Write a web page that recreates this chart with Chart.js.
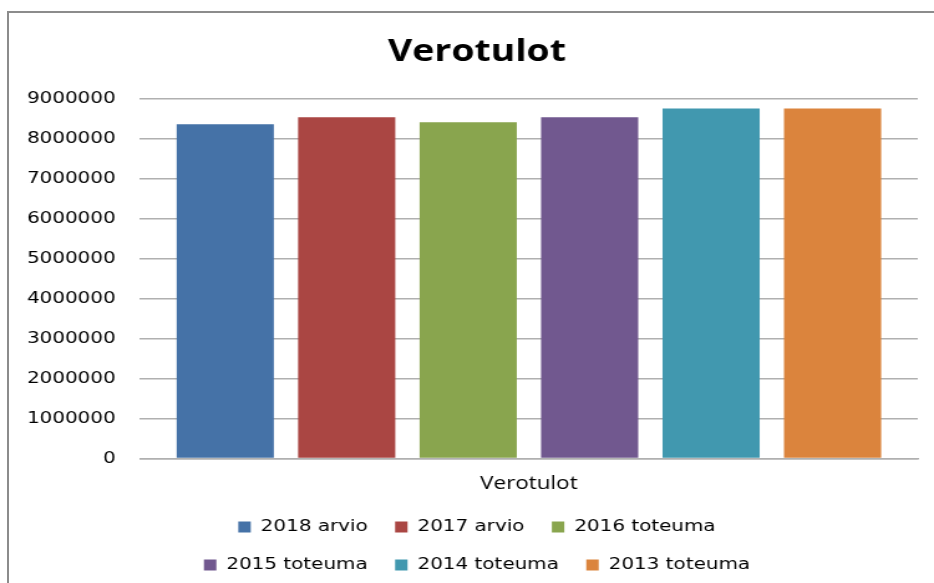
<!DOCTYPE html>
<html>
<head>
<meta charset="utf-8">
<script src="https://cdn.jsdelivr.net/npm/chart.js@4/dist/chart.umd.min.js"></script>
<style>
  html, body { margin: 0; padding: 0; background: #fff; overflow: hidden; }
  #frame { position: absolute; left: 7px; top: 11px; width: 960px; height: 600px;
           border-left: 2px solid #8c8c8c; border-top: 2px solid #8c8c8c; }
  #chart { position: absolute; left: 0; top: 0; }
</style>
</head>
<body>
<div id="frame"></div>
<!-- the original picture is stretched sideways, so the canvas is too -->
<canvas id="chart" width="750" height="583" style="width:934px;height:583px"></canvas>
<script>
// data
var categories = ["Verotulot"];
var seriesNames = ["2018 arvio", "2017 arvio", "2016 toteuma", "2015 toteuma", "2014 toteuma", "2013 toteuma"];
var seriesValues = [8370000, 8540000, 8420000, 8540000, 8760000, 8760000];
var seriesColors = ["#4572A7", "#AA4643", "#89A54E", "#71588F", "#4198AF", "#DB843D"];
var yTicks = [0, 1000000, 2000000, 3000000, 4000000, 5000000, 6000000, 7000000, 8000000, 9000000];

var datasets = [];
for (var i = 0; i < seriesNames.length; i++) {
    datasets.push({
        label: seriesNames[i],
        data: [seriesValues[i]],
        backgroundColor: seriesColors[i],
        borderWidth: 0,
        categoryPercentage: 0.937,
        barPercentage: 0.8
    });
}

// keep the legend at three items a row, like the original
var legendRows = {
    id: "legendRows",
    afterInit: function(chart) {
        var lg = chart.legend;
        var fitRows = lg._fitRows;
        lg._fitRows = function() {
            var w = this.maxWidth;
            this.maxWidth = 540;
            var r = fitRows.apply(this, arguments);
            this.maxWidth = w;
            return r;
        };
    }
};

var ctx = document.getElementById("chart").getContext("2d");
var chart = new Chart(ctx, {
    type: "bar",
    data: { labels: categories, datasets: datasets },
    plugins: [legendRows],
    options: {
        responsive: false,
        animation: false,
        devicePixelRatio: 1,
        layout: { padding: { left: 16, right: 0, top: 0, bottom: 0 } },
        plugins: {
            title: {
                display: true,
                text: "Verotulot",
                color: "#000",
                font: { family: "Open Sans", size: 30, weight: "bold" },
                padding: { top: 34, bottom: 29 }
            },
            legend: {
                position: "bottom",
                labels: {
                    boxWidth: 10,
                    boxHeight: 11,
                    padding: 22,
                    color: "#000",
                    font: { family: "DejaVu Sans", size: 16 }
                }
            },
            tooltip: { enabled: false }
        },
        scales: {
            x: {
                grid: { display: false, drawTicks: false },
                border: { display: true, color: "#b0b0b0", width: 1.5 },
                ticks: { display: false },
                // the category name sits under the bars
                title: {
                    display: true,
                    text: categories[0],
                    color: "#000",
                    font: { family: "Open Sans", size: 18 },
                    padding: { top: 15, bottom: 2 }
                }
            },
            y: {
                min: 0,
                max: 9000000,
                afterBuildTicks: function(axis) {
                    axis.ticks = yTicks.map(function(v) { return { value: v }; });
                },
                afterFit: function(axis) { axis.width = 96.4; },
                grid: { color: "#b0b0b0", lineWidth: 1.5, drawTicks: false },
                border: { display: false },
                ticks: {
                    color: "#000",
                    padding: 19.5,
                    font: { family: "DejaVu Sans", size: 16 },
                    callback: function(v) { return String(v); }
                }
            },
            // empty strip on the right of the plot
            yRight: {
                position: "right",
                afterFit: function(axis) { axis.width = 13; },
                grid: { display: false, drawTicks: false },
                border: { display: false },
                ticks: { display: false }
            }
        }
    }
});
</script>
</body>
</html>
